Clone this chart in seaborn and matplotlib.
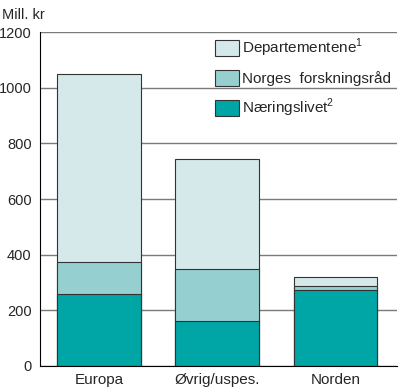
import pandas as pd
import matplotlib.pyplot as plt
import seaborn as sns
import numpy as np
from matplotlib.patches import Patch

regions = ['Europa', 'Øvrig/uspes.', 'Norden']
naeringslivet = [260, 160, 272]
forskningsrad = [115, 190, 15]
departementene = [675, 395, 32]

series_names = ['Departementene$^1$', 'Norges  forskningsråd', 'Næringslivet$^2$']
colors = ['#d5e9eb', '#96cfcf', '#00a5a6']

sns.set_style('white')
plt.rcParams['font.family'] = ['Liberation Sans', 'DejaVu Sans']
plt.rcParams['mathtext.fontset'] = 'custom'
plt.rcParams['mathtext.rm'] = 'Liberation Sans'

df = pd.DataFrame({'region': regions,
                   'n': naeringslivet,
                   'f': forskningsrad,
                   'd': departementene})
df['nf'] = df['n'] + df['f']
df['total'] = df['nf'] + df['d']

fig = plt.figure(figsize=(4, 3.91), dpi=100)
ax = fig.add_axes([0.1, 0.064, 0.8925, 0.854])

# stacked bars: draw totals first, then cover with the lower parts
for col, color in zip(['total', 'nf', 'n'], colors):
    sns.barplot(data=df, x='region', y=col, color=color, width=0.71,
                edgecolor='#333333', linewidth=0.8, saturation=1, ax=ax, zorder=2)

ax.set_ylim(0, 1200)
ax.set_xlim(-0.5, 2.52)
ax.set_yticks(np.arange(0, 1201, 200))
ax.yaxis.grid(True, color='#7a7a7a', linewidth=1, zorder=0)
ax.set_axisbelow(True)
ax.set_xlabel('')
ax.set_ylabel('')
ax.tick_params(axis='y', labelsize=10.5, length=0, pad=6)
ax.tick_params(axis='x', labelsize=11, length=0, pad=5)
for s in ['top', 'right']:
    ax.spines[s].set_visible(False)
ax.spines['left'].set_color('black')
ax.spines['bottom'].set_color('black')

fig.text(0.005, 0.962, 'Mill. kr', fontsize=10.5, va='center', ha='left')

handles = [Patch(facecolor=c, edgecolor='#333333', linewidth=0.8) for c in colors]
fig.legend(handles, series_names, loc='upper left',
           bbox_to_anchor=(215 / 400, 1 - 37 / 391),
           frameon=False, fontsize=11, handlelength=1.6, handleheight=1.25,
           handletextpad=0.2, labelspacing=0.7, borderpad=0, borderaxespad=0)

plt.savefig('out.png', dpi=100)
